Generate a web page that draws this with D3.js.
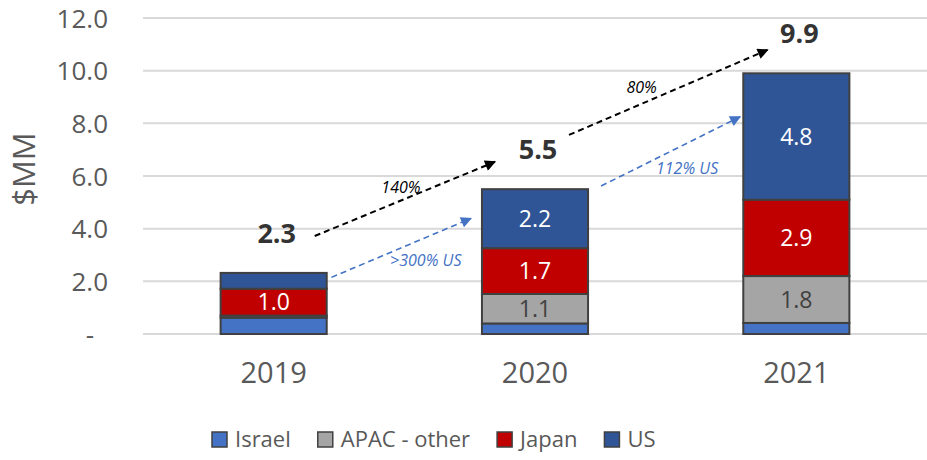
<!DOCTYPE html>
<html>
<head>
<meta charset="utf-8">
<script src="https://cdn.jsdelivr.net/npm/d3@7"></script>
<style>
  html, body { margin: 0; padding: 0; background: #fff; }
  svg { display: block; font-family: "Open Sans", "Noto Sans", sans-serif; }
</style>
</head>
<body>
<svg id="chart" width="927" height="460"></svg>
<script>
// ---------- data ----------
const years = ["2019", "2020", "2021"];
const seriesNames = ["Israel", "APAC - other", "Japan", "US"];
const israel = [0.62, 0.40, 0.42];
const apacOther = [0.08, 1.12, 1.78];
const japan = [1.02, 1.74, 2.90];
const us = [0.60, 2.24, 4.80];
const yTicks = [0, 2, 4, 6, 8, 10, 12];
const colors = ["#4472C4", "#A5A5A5", "#C00000", "#2F5597"];
const labelColors = ["#ffffff", "#404040", "#ffffff", "#ffffff"];

// growth annotations: [year, offset(frac of step), value]
const growthArrows = [
  { kind: "total", from: ["2019", 0.157, 3.72], to: ["2020", -0.153, 6.54] },
  { kind: "total", from: ["2020", 0.13, 7.56], to: ["2021", -0.11, 10.79] },
  { kind: "us", from: ["2019", 0.221, 2.15], to: ["2020", -0.245, 4.39] },
  { kind: "us", from: ["2020", 0.253, 5.62], to: ["2021", -0.215, 8.25] }
];
const growthLabels = [
  { kind: "total", text: "140%", at: ["2019", 0.487, 5.37] },
  { kind: "total", text: "80%", at: ["2020", 0.408, 9.14] },
  { kind: "us", text: ">300% US", at: ["2019", 0.582, 2.58] },
  { kind: "us", text: "112% US", at: ["2020", 0.582, 6.08] }
];

// ---------- build ----------
const svg = d3.select("#chart");
const table = years.map((yr, i) => ({
  year: yr,
  "Israel": israel[i],
  "APAC - other": apacOther[i],
  "Japan": japan[i],
  "US": us[i]
}));
const totals = years.map((yr, i) => israel[i] + apacOther[i] + japan[i] + us[i]);

const x = d3.scaleBand().domain(years).range([143, 927]).paddingInner(0.594).paddingOuter(0.297);
const y = d3.scaleLinear().domain([0, 12]).range([334, 18]);
const step = x.step();
const cx = yr => x(yr) + x.bandwidth() / 2;
const px = p => cx(p[0]) + p[1] * step;

// gridlines
svg.append("g").selectAll("line").data(yTicks).join("line")
  .attr("x1", 143).attr("x2", 927)
  .attr("y1", d => y(d)).attr("y2", d => y(d))
  .attr("stroke", "#d9d9d9").attr("stroke-width", 2);

// y axis labels
const yAxis = d3.axisLeft(y).tickValues(yTicks)
  .tickFormat(d => d === 0 ? "-" : d3.format(".1f")(d))
  .tickSize(0).tickPadding(0);
const gy = svg.append("g").attr("transform", "translate(108,0)").call(yAxis);
gy.select(".domain").remove();
gy.selectAll("text")
  .attr("font-size", 26).attr("fill", "#595959")
  .attr("font-family", "'Open Sans', sans-serif")
  .attr("dy", "0.35em")
  .attr("dx", d => d === 0 ? -14 : 0);

// y title
svg.append("text")
  .attr("transform", "translate(35,169) rotate(-90)")
  .attr("text-anchor", "middle")
  .attr("font-size", 31).attr("fill", "#595959")
  .text("$MM");

// x axis labels
const xAxis = d3.axisBottom(x).tickSize(0).tickPadding(0);
const gx = svg.append("g").attr("transform", "translate(0,383)").call(xAxis);
gx.select(".domain").remove();
gx.selectAll("text")
  .attr("font-size", 29).attr("fill", "#595959")
  .attr("font-family", "'Open Sans', sans-serif")
  .attr("dy", 0).attr("y", 0);

// stacked bars
const stacked = d3.stack().keys(seriesNames)(table);
const layers = svg.append("g").selectAll("g").data(stacked).join("g")
  .attr("fill", (d, i) => colors[i]);
layers.selectAll("rect").data(d => d).join("rect")
  .attr("x", d => x(d.data.year))
  .attr("width", x.bandwidth())
  .attr("y", d => y(d[1]))
  .attr("height", d => y(d[0]) - y(d[1]))
  .attr("stroke", "#404040").attr("stroke-width", 2);

// segment labels
stacked.forEach((layer, si) => {
  if (si === 0) return;
  svg.append("g").selectAll("text").data(layer.filter(d => (d[1] - d[0]) >= 0.95)).join("text")
    .attr("x", d => cx(d.data.year))
    .attr("y", d => (y(d[0]) + y(d[1])) / 2)
    .attr("dy", "0.36em")
    .attr("text-anchor", "middle")
    .attr("font-size", 23)
    .attr("fill", labelColors[si])
    .text(d => d3.format(".1f")(d[1] - d[0]));
});

// totals
svg.append("g").selectAll("text").data(years).join("text")
  .attr("x", (d) => cx(d) + 3)
  .attr("y", (d, i) => y(totals[i]) - 40)
  .attr("dy", "0.36em")
  .attr("text-anchor", "middle")
  .attr("font-size", 27).attr("font-weight", "bold")
  .attr("fill", "#333333")
  .text((d, i) => d3.format(".1f")(totals[i]));

// arrow markers
const defs = svg.append("defs");
[["total", "#000000"], ["us", "#4472C4"]].forEach(([k, c]) => {
  defs.append("marker")
    .attr("id", "arrow-" + k)
    .attr("viewBox", "0 0 10 10")
    .attr("refX", 9).attr("refY", 5)
    .attr("markerUnits", "userSpaceOnUse")
    .attr("markerWidth", 15).attr("markerHeight", 11)
    .attr("orient", "auto")
    .append("path").attr("d", "M0,0 L10,5 L0,10 Z").attr("fill", c);
});

svg.append("g").selectAll("line").data(growthArrows).join("line")
  .attr("x1", d => px(d.from)).attr("y1", d => y(d.from[2]))
  .attr("x2", d => px(d.to)).attr("y2", d => y(d.to[2]))
  .attr("stroke", d => d.kind === "total" ? "#000000" : "#4472C4")
  .attr("stroke-width", d => d.kind === "total" ? 2 : 1.6)
  .attr("stroke-dasharray", "6,4")
  .attr("marker-end", d => "url(#arrow-" + d.kind + ")");

svg.append("g").selectAll("text").data(growthLabels).join("text")
  .attr("x", d => px(d.at)).attr("y", d => y(d.at[2]))
  .attr("text-anchor", "middle")
  .attr("font-size", 16).attr("font-style", "italic")
  .attr("fill", d => d.kind === "total" ? "#000000" : "#4472C4")
  .text(d => d.text);

// legend
const legend = svg.append("g");
let lx = 212;
seriesNames.forEach((name, i) => {
  const g = legend.append("g");
  g.append("rect").attr("x", lx).attr("y", 432).attr("width", 15).attr("height", 15)
    .attr("fill", colors[i]).attr("stroke", "#404040").attr("stroke-width", 1.5);
  const t = g.append("text").attr("x", lx + 23).attr("y", 447)
    .attr("font-size", 22).attr("fill", "#595959").text(name);
  const w = t.node().getComputedTextLength();
  lx = lx + 23 + w + 27;
});
</script>
</body>
</html>
